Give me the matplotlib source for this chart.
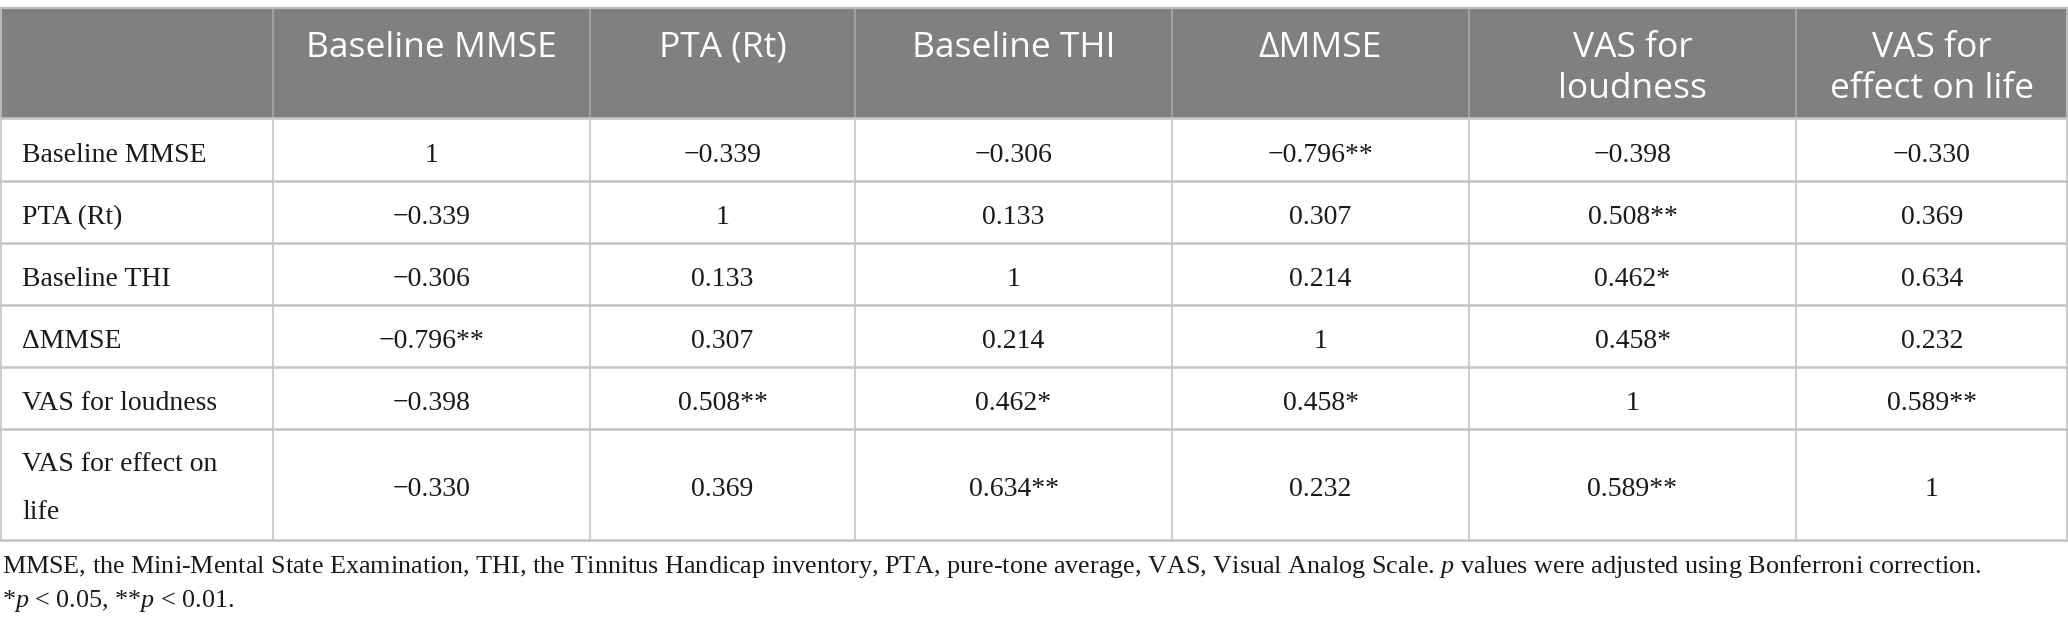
import matplotlib
matplotlib.use("Agg")
import matplotlib.pyplot as plt
import numpy as np

plt.rcParams["mathtext.fontset"] = "custom"
plt.rcParams["mathtext.rm"] = "Liberation Serif"
plt.rcParams["mathtext.it"] = "Liberation Serif:italic"

# table content
col_headers = ["", "Baseline MMSE", "PTA (Rt)", "Baseline THI", "\u0394MMSE",
               "VAS for\nloudness", "VAS for\neffect on life"]
row_labels = ["Baseline MMSE", "PTA (Rt)", "Baseline THI", "\u0394MMSE",
              "VAS for loudness", "VAS for effect on\nlife"]
corr = [
    [1, -0.339, -0.306, -0.796, -0.398, -0.330],
    [-0.339, 1, 0.133, 0.307, 0.508, 0.369],
    [-0.306, 0.133, 1, 0.214, 0.462, 0.634],
    [-0.796, 0.307, 0.214, 1, 0.458, 0.232],
    [-0.398, 0.508, 0.462, 0.458, 1, 0.589],
    [-0.330, 0.369, 0.634, 0.232, 0.589, 1],
]
stars = [
    ["", "", "", "**", "", ""],
    ["", "", "", "", "**", ""],
    ["", "", "", "", "*", ""],
    ["**", "", "", "", "*", ""],
    ["", "**", "*", "*", "", "**"],
    ["", "", "**", "", "**", ""],
]
footnote = ["MMSE, the Mini-Mental State Examination, THI, the Tinnitus Handicap inventory, "
            "PTA, pure-tone average, VAS, Visual Analog Scale. $p$ values were adjusted using "
            "Bonferroni correction.",
            "*$p$ < 0.05, **$p$ < 0.01."]


def fmt(v, s):
    if v == 1:
        return "1"
    return f"{v:.3f}".replace("-", "\u2212") + s


W, H = 2068, 636
fig = plt.figure(figsize=(W / 100, H / 100), dpi=100)
ax = fig.add_axes([0, 0, 1, 1])
ax.set_xlim(0, W)
ax.set_ylim(H, 0)
ax.axis("off")

col_w = [273, 317, 265, 317, 297, 327, 272]
xs = np.concatenate([[0], np.cumsum(col_w)])
top, head_bot = 8, 118
row_h = [63, 62, 62, 62, 62, 111]
ys = np.concatenate([[head_bot], head_bot + np.cumsum(row_h)])

head_col = "#808080"
grid_col = "#c4c4c4"

# header band
ax.add_patch(plt.Rectangle((0, top), W, head_bot - top, color=head_col, lw=0))
for x in xs[1:-1]:
    ax.plot([x, x], [top, head_bot], color="#a8a8a8", lw=1.2)
    ax.plot([x, x], [head_bot, ys[-1]], color=grid_col, lw=1.2)
for x in [xs[0] + 0.8, xs[-1] - 0.8]:
    ax.plot([x, x], [top, ys[-1]], color=grid_col, lw=1.2)
ax.plot([0, W], [top, top], color="#bdbdbd", lw=1.6)
for y in ys:
    ax.plot([0, W], [y, y], color=grid_col, lw=1.8)

# header text
for j, h in enumerate(col_headers):
    cx = (xs[j] + xs[j + 1]) / 2
    for k, line in enumerate(h.split("\n")):
        ax.text(cx, 57 + 41 * k, line, ha="center", va="baseline", color="white",
                family="Open Sans", fontsize=25.5)

# body
for i, lab in enumerate(row_labels):
    y0, y1 = ys[i], ys[i + 1]
    cy = (y0 + y1) / 2
    lines = lab.split("\n")
    if len(lines) == 1:
        ax.text(22, cy + 12, lab, ha="left", va="baseline",
                family="Liberation Serif", fontsize=20, color="#1a1a1a")
    else:
        for k, line in enumerate(lines):
            ax.text(22, cy - 13.5 + 48 * k, line, ha="left", va="baseline",
                    family="Liberation Serif", fontsize=20, color="#1a1a1a")
    for j in range(6):
        cx = (xs[j + 1] + xs[j + 2]) / 2
        ax.text(cx, cy + 12, fmt(corr[i][j], stars[i][j]), ha="center", va="baseline",
                family="Liberation Serif", fontsize=20, color="#1a1a1a")

# footnote
for k, line in enumerate(footnote):
    ax.text(2, 573 + 34 * k, line, ha="left", va="baseline",
            family="Liberation Serif", fontsize=18.8, color="#1a1a1a")

fig.savefig("out.png", dpi=100, facecolor="white")
